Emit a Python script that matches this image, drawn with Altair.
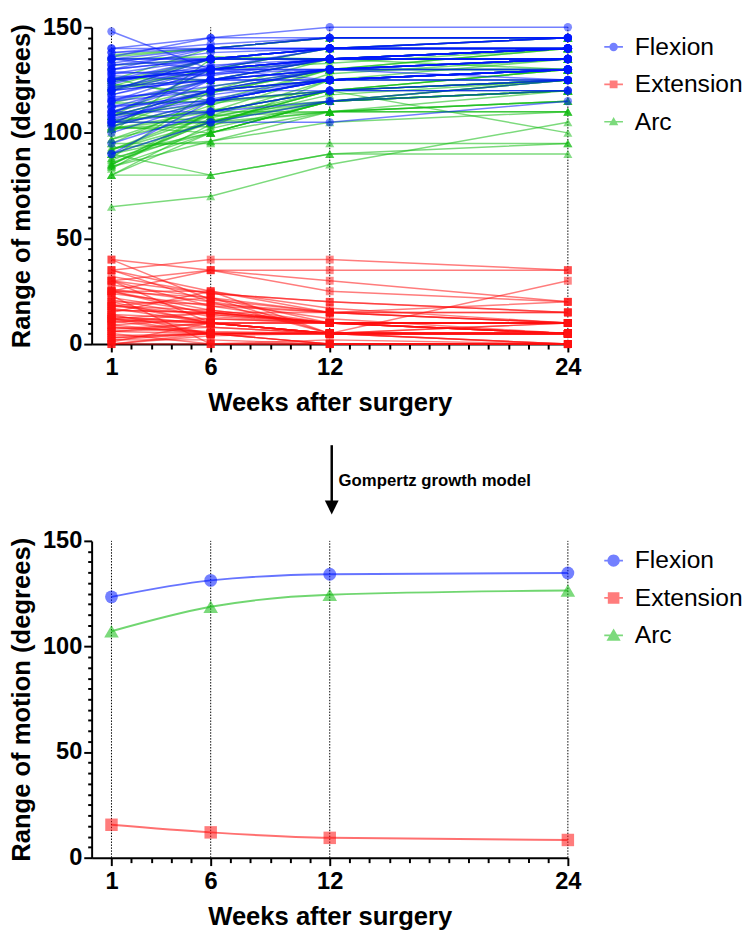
import altair as alt
import pandas as pd

# ---------------- data ----------------
WEEKS = [1, 6, 12, 24]
SERIES = ["Flexion", "Extension", "Arc"]

# one row per patient: values at weeks 1, 6, 12, 24 (degrees)
FLEXION = [
    [148, 130, 135, 140], [140, 145, 145, 145], [135, 140, 140, 140], [135, 135, 140, 145],
    [130, 135, 140, 140], [130, 140, 140, 145], [125, 130, 135, 135], [125, 135, 140, 140],
    [120, 130, 135, 140], [120, 125, 130, 135], [115, 125, 135, 135], [115, 130, 130, 135],
    [110, 120, 125, 130], [110, 125, 135, 140], [105, 120, 125, 130], [105, 105, 105, 115],
    [95, 110, 120, 125], [90, 115, 125, 130], [90, 105, 115, 125], [103, 115, 125, 130],
    [138, 140, 140, 145], [135, 135, 135, 140], [133, 140, 145, 145], [128, 135, 140, 140],
    [128, 130, 135, 135], [125, 130, 130, 130], [123, 135, 135, 135], [120, 125, 125, 130],
    [118, 130, 135, 140], [115, 120, 130, 125], [112, 125, 130, 135], [108, 120, 130, 135],
    [107, 115, 125, 130], [105, 110, 115, 120], [104, 125, 130, 135], [140, 140, 145, 145],
    [136, 145, 150, 150], [132, 135, 140, 140], [127, 125, 130, 135], [122, 125, 125, 125],
    [117, 120, 125, 130], [113, 115, 120, 120], [109, 130, 140, 140], [106, 120, 120, 125],
    [130, 135, 135, 140], [125, 130, 135, 140], [120, 135, 140, 145], [110, 110, 120, 120],
    [135, 130, 125, 130], [100, 115, 125, 130], [132, 138, 140, 140], [126, 128, 130, 135],
    [118, 128, 135, 140], [112, 118, 125, 125], [138, 142, 145, 145], [124, 132, 135, 135],
    [116, 122, 130, 130], [129, 127, 135, 140], [108, 116, 125, 130], [121, 131, 140, 140],
]
EXTENSION = [
    [22, 15, 10, 5], [3, 5, 0, 0], [0, 4, 5, 5], [13, 10, 5, 5],
    [25, 16, 10, 10], [8, 5, 5, 5], [35, 25, 17, 10], [5, 0, 0, 0],
    [18, 22, 10, 10], [17, 10, 10, 5], [30, 18, 15, 15], [12, 10, 5, 5],
    [25, 14, 10, 10], [2, 5, 0, 0], [20, 10, 5, 5], [15, 25, 15, 20],
    [11, 10, 5, 5], [10, 15, 10, 5], [25, 35, 30, 20], [1, 10, 5, 5],
    [6, 5, 5, 5], [30, 24, 20, 15], [9, 5, 5, 0], [40, 35, 25, 20],
    [14, 5, 5, 5], [30, 35, 35, 35], [23, 0, 0, 0], [40, 21, 15, 10],
    [30, 10, 5, 5], [35, 40, 40, 35], [4, 5, 5, 5], [16, 15, 10, 10],
    [21, 13, 10, 10], [0, 5, 5, 5], [12, 15, 10, 5], [19, 10, 5, 5],
    [11, 5, 5, 5], [6, 10, 5, 10], [25, 22, 5, 10], [16, 15, 15, 15],
    [3, 5, 5, 5], [20, 19, 15, 10], [26, 20, 12, 5], [9, 12, 10, 10],
    [35, 20, 5, 5], [0, 0, 2, 0], [12, 5, 0, 0], [7, 10, 10, 10],
    [25, 25, 5, 30], [13, 10, 10, 5], [12, 8, 5, 5], [18, 14, 10, 5],
    [8, 6, 5, 0], [28, 22, 15, 10], [2, 2, 0, 0], [32, 24, 20, 15],
    [14, 12, 10, 5], [6, 8, 5, 0], [18, 16, 10, 10], [24, 18, 10, 10],
]
ARC = [
    [126, 115, 125, 135], [137, 140, 145, 145], [135, 136, 135, 135], [122, 125, 135, 140],
    [105, 119, 130, 130], [122, 135, 135, 140], [90, 105, 118, 125], [120, 135, 140, 140],
    [102, 108, 125, 130], [103, 115, 120, 130], [85, 107, 120, 120], [103, 120, 125, 130],
    [85, 106, 115, 120], [108, 120, 135, 140], [85, 110, 120, 125], [90, 80, 90, 95],
    [84, 100, 115, 120], [80, 100, 115, 125], [65, 70, 85, 105], [102, 105, 120, 125],
    [132, 135, 135, 140], [105, 111, 115, 125], [124, 135, 140, 145], [88, 100, 115, 120],
    [114, 125, 130, 130], [95, 95, 95, 95], [100, 135, 135, 135], [80, 104, 110, 120],
    [88, 120, 130, 135], [80, 80, 90, 90], [108, 120, 125, 130], [92, 105, 120, 125],
    [86, 102, 115, 120], [105, 105, 110, 115], [92, 110, 120, 130], [121, 130, 140, 140],
    [125, 140, 145, 145], [126, 125, 135, 130], [102, 103, 125, 125], [106, 110, 110, 110],
    [114, 115, 120, 125], [93, 96, 105, 110], [83, 110, 128, 135], [97, 108, 110, 115],
    [95, 115, 130, 135], [125, 130, 133, 140], [108, 130, 140, 145], [103, 100, 110, 110],
    [110, 105, 120, 100], [87, 105, 115, 125], [120, 130, 135, 135], [108, 114, 120, 130],
    [110, 122, 130, 140], [84, 96, 110, 115], [136, 140, 145, 145], [92, 108, 115, 120],
    [102, 110, 120, 125], [123, 119, 130, 140], [90, 100, 115, 120], [97, 113, 130, 130],
]

# Gompertz model values at the four visits
FIT_FLEXION = [123.5, 131.3, 134.2, 134.8]
FIT_EXTENSION = [15.6, 12.0, 9.4, 8.4]
FIT_ARC = [107.2, 118.8, 124.5, 126.5]

X_TICKS = list(range(1, 25))
Y_TICKS = list(range(0, 151, 5))
ANNOTATION = "Gompertz growth model"
ARROW_WEEK = 12.1
ARROW_TOP, ARROW_END, ARROW_HEAD, LABEL_Y = 195.3, 168.0, 165.8, 178.5

# ---------------- style ----------------
FONT = "Liberation Sans"
COLORS = {"Flexion": "#0018ff", "Extension": "#ff1010", "Arc": "#10bb10"}
SHAPES = {"Flexion": "circle", "Extension": "square", "Arc": "triangle-up"}
TOP_SIZES = {"Flexion": 72, "Extension": 64, "Arc": 85}
BOT_SIZES = {"Flexion": 169, "Extension": 160, "Arc": 220}
DRAW_ORDER = ["Extension", "Arc", "Flexion"]
W, H = 484, 322

BAR = "M-1,-0.09H1V0.09H-1Z"
TOP_PATHS = [
    BAR + "M-0.45,0A0.45,0.45,0,1,1,0.45,0A0.45,0.45,0,1,1,-0.45,0Z",
    BAR + "M-0.42,-0.42H0.42V0.42H-0.42Z",
    BAR + "M0,-0.5L0.5,0.38H-0.5Z",
]
BOT_PATHS = [
    BAR + "M-0.66,0A0.66,0.66,0,1,1,0.66,0A0.66,0.66,0,1,1,-0.66,0Z",
    BAR + "M-0.62,-0.62H0.62V0.62H-0.62Z",
    BAR + "M0,-0.72L0.76,0.58H-0.76Z",
]

MAJOR_X = f"indexof({WEEKS}, datum.value) >= 0"
MAJOR_Y = "datum.value % 50 === 0"

common_axis = dict(
    grid=False, domainColor="black", domainWidth=2, tickColor="black", tickWidth=2,
    labelFont=FONT, labelFontSize=24, labelFontWeight="bold", labelColor="black",
    titleFont=FONT, titleFontSize=26, titleFontWeight="bold", titleColor="black",
    labelOverlap=False,
)
x_axis = alt.Axis(
    title="Weeks after surgery", values=X_TICKS,
    labelExpr=f"{MAJOR_X} ? datum.label : ''",
    tickSize={"condition": {"test": MAJOR_X, "value": 8}, "value": 5},
    labelFlush=False, labelPadding=4, titlePadding=11, **common_axis,
)
y_axis = alt.Axis(
    title="Range of motion (degrees)", values=Y_TICKS,
    labelExpr=f"{MAJOR_Y} ? datum.label : ''",
    tickSize={"condition": {"test": MAJOR_Y, "value": 8}, "value": 4},
    labelPadding=2, titlePadding=8.5, **common_axis,
)
x_scale = alt.Scale(domain=[0, 24], nice=False)
y_scale = alt.Scale(domain=[0, 150], nice=False)


def X(field):
    return alt.X(f"{field}:Q", scale=x_scale, axis=x_axis)


def Y(field):
    return alt.Y(f"{field}:Q", scale=y_scale, axis=y_axis)


def long_frame(rows):
    recs = []
    for pid, vals in enumerate(rows):
        for w, v in zip(WEEKS, vals):
            recs.append({"patient": pid, "week": w, "value": v})
    return pd.DataFrame(recs)


def guide_rules():
    df = pd.DataFrame({"week": WEEKS, "lo": [0] * len(WEEKS), "hi": [150] * len(WEEKS)})
    return alt.Chart(df).mark_rule(color="black", strokeDash=[1.5, 1.5], strokeWidth=1).encode(
        x=X("week"), y=Y("lo"), y2="hi"
    )


def legend_layer(paths, legend_y):
    leg = alt.Legend(
        title=None, orient="none", legendX=518, legendY=legend_y, direction="vertical",
        labelFont=FONT, labelFontSize=25, labelColor="black", symbolSize=361,
        symbolOpacity=0.55, symbolStrokeWidth=0, rowPadding=12, labelOffset=9, padding=0,
    )
    return (
        alt.Chart(pd.DataFrame({"series": SERIES}))
        .transform_filter("false")
        .mark_point(filled=True)
        .encode(
            color=alt.Color("series:N", scale=alt.Scale(domain=SERIES, range=[COLORS[s] for s in SERIES]), legend=leg),
            shape=alt.Shape("series:N", scale=alt.Scale(domain=SERIES, range=paths), legend=leg),
        )
    )


# ---------------- top: individual patients ----------------
top_data = dict(zip(SERIES, [FLEXION, EXTENSION, ARC]))
top_layers = [guide_rules()]
for s in DRAW_ORDER:
    base = alt.Chart(long_frame(top_data[s]))
    top_layers.append(
        base.mark_line(color=COLORS[s], strokeWidth=1.5, opacity=0.55).encode(
            x=X("week"), y=Y("value"), detail="patient:N"
        )
    )
    top_layers.append(
        base.mark_point(filled=True, color=COLORS[s], shape=SHAPES[s], size=TOP_SIZES[s], opacity=0.5).encode(
            x=X("week"), y=Y("value")
        )
    )
top_layers.append(legend_layer(TOP_PATHS, 7.5))
top = alt.layer(*top_layers).properties(width=W, height=H)

# ---------------- bottom: Gompertz model ----------------
fit_data = dict(zip(SERIES, [FIT_FLEXION, FIT_EXTENSION, FIT_ARC]))
bot_layers = [guide_rules()]
for s in SERIES:
    base = alt.Chart(pd.DataFrame({"week": WEEKS, "value": fit_data[s]}))
    bot_layers.append(
        base.mark_line(color=COLORS[s], strokeWidth=2, opacity=0.6, interpolate="monotone").encode(
            x=X("week"), y=Y("value")
        )
    )
    bot_layers.append(
        base.mark_point(filled=True, color=COLORS[s], shape=SHAPES[s], size=BOT_SIZES[s], opacity=0.55).encode(
            x=X("week"), y=Y("value")
        )
    )

arrow_df = pd.DataFrame({
    "week": [ARROW_WEEK], "top": [ARROW_TOP], "end": [ARROW_END],
    "head": [ARROW_HEAD], "ly": [LABEL_Y], "label": [ANNOTATION],
})
arrow_base = alt.Chart(arrow_df)
bot_layers.append(arrow_base.mark_rule(color="black", strokeWidth=2.5).encode(x=X("week"), y=Y("top"), y2="end"))
bot_layers.append(
    arrow_base.mark_point(filled=True, color="black", opacity=1, shape="M-1,-1H1L0,1Z", size=196).encode(
        x=X("week"), y=Y("head")
    )
)
bot_layers.append(
    arrow_base.mark_text(align="left", baseline="middle", dx=7, font=FONT, fontSize=17, fontWeight="bold", color="black").encode(
        x=X("week"), y=Y("ly"), text="label:N"
    )
)
bot_layers.append(legend_layer(BOT_PATHS, 7.5))
bottom = alt.layer(*bot_layers).properties(width=W, height=H)

chart = (
    alt.vconcat(top, bottom, spacing=28)
    .resolve_scale(color="independent", shape="independent")
    .properties(padding=0)
    .configure_view(stroke=None)
)

chart.save("out.html", embed_options={"renderer": "svg", "actions": False})
